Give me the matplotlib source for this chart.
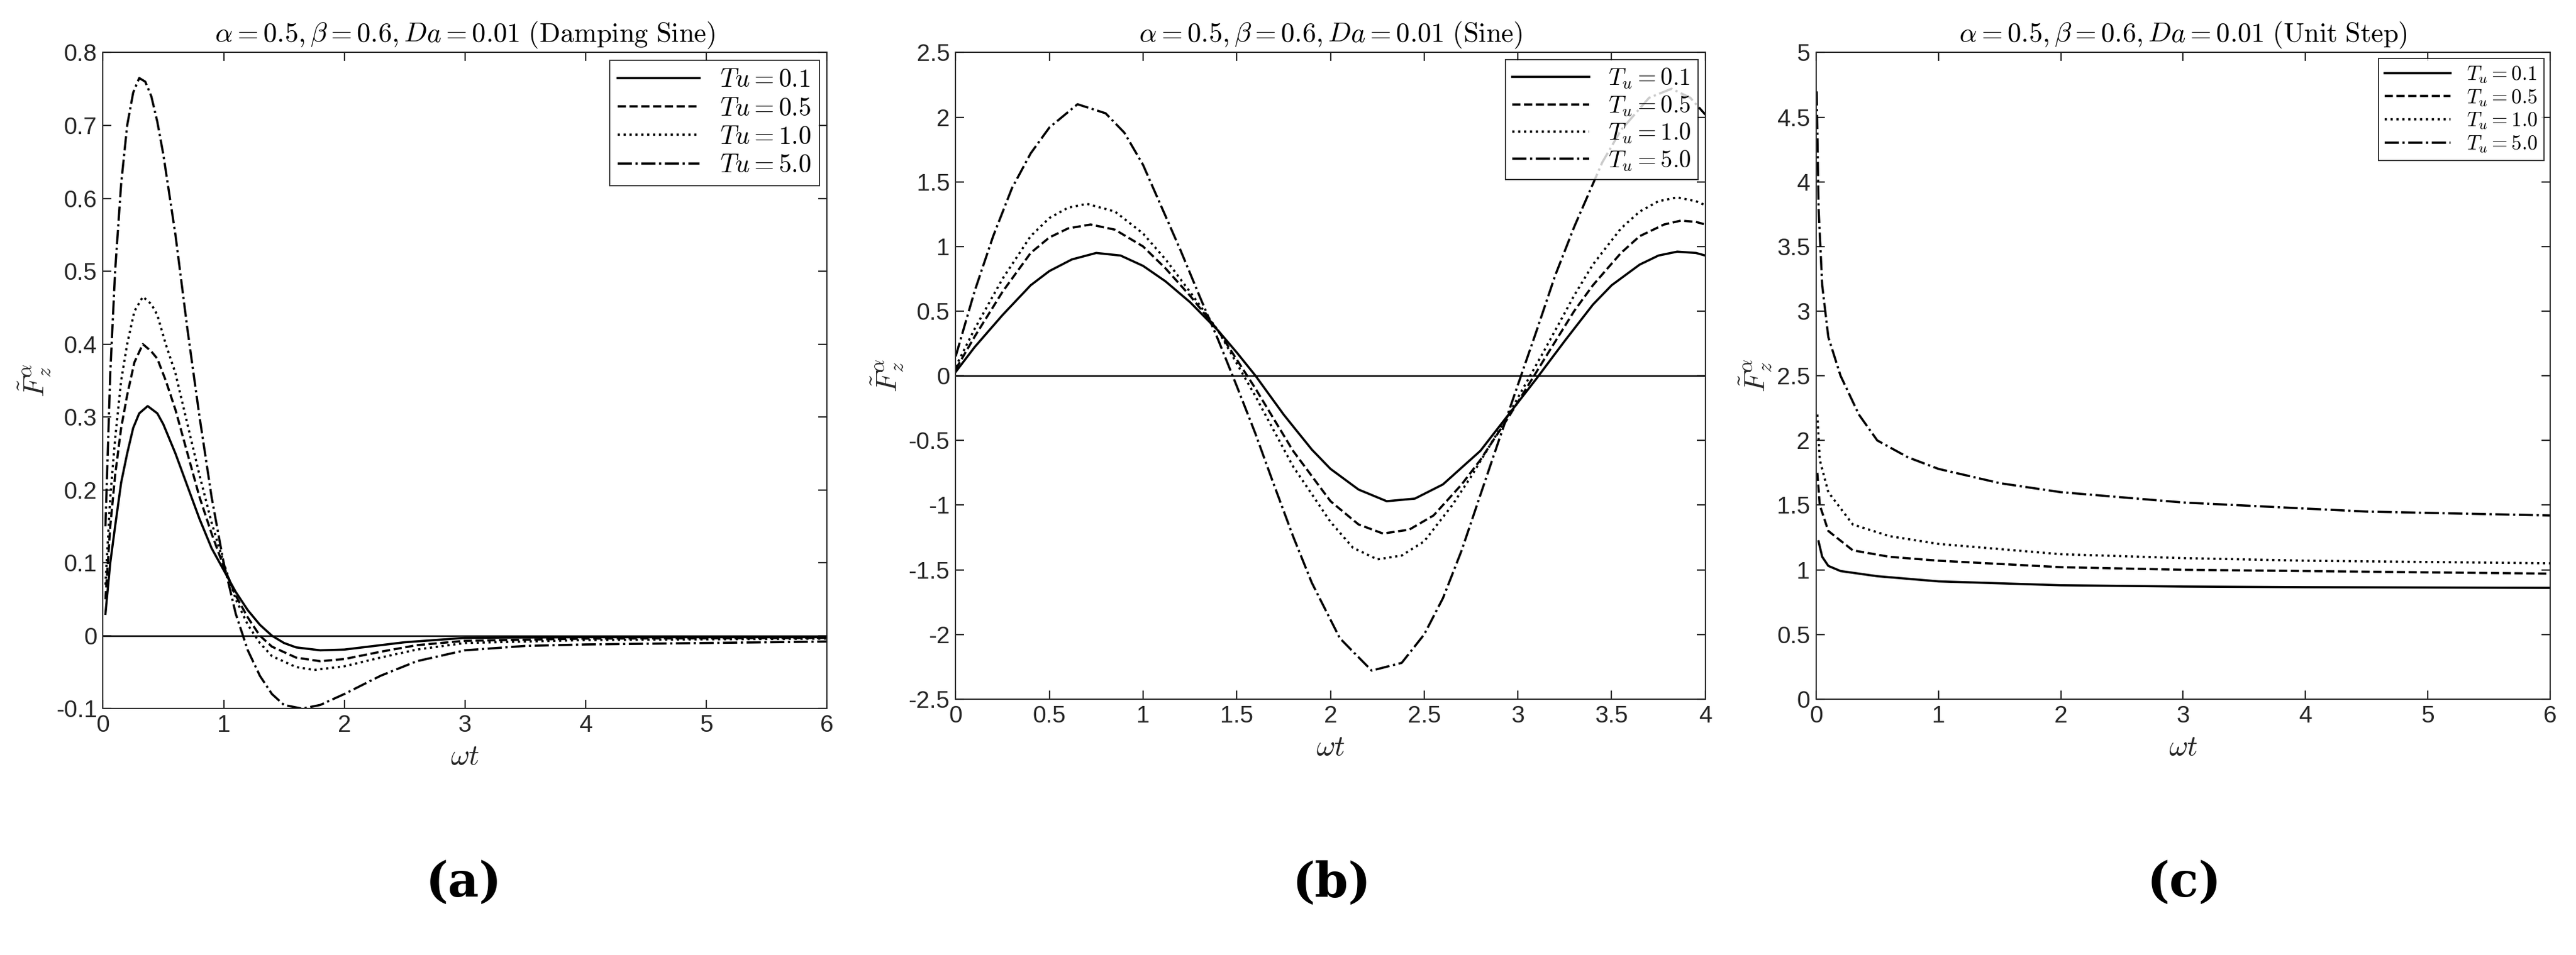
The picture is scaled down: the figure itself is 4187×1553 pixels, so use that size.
import matplotlib
matplotlib.use("Agg")
import matplotlib.pyplot as plt
import numpy as np

plt.rcParams['mathtext.fontset'] = 'cm'
plt.rcParams['font.family'] = ['Liberation Sans', 'DejaVu Sans']

# Panel (a) Damping Sine
a_x1 = [0.02,0.06,0.1,0.15,0.2,0.25,0.3,0.37,0.45,0.5,0.6,0.7,0.8,0.9,1.0,1.1,1.2,1.3,1.4,1.5,1.6,1.8,2.0,2.2,2.5,3.0,4.0,6.0]
a_y1 = [0.03,0.10,0.15,0.21,0.25,0.285,0.305,0.315,0.305,0.29,0.25,0.205,0.16,0.12,0.09,0.06,0.035,0.015,0.0,-0.01,-0.016,-0.02,-0.019,-0.015,-0.009,-0.003,-0.002,-0.002]
a_x2 = [0.02,0.06,0.1,0.15,0.2,0.26,0.33,0.4,0.45,0.52,0.6,0.7,0.8,0.9,1.0,1.1,1.2,1.3,1.4,1.6,1.8,2.0,2.3,2.6,3.0,4.0,6.0]
a_y2 = [0.05,0.15,0.22,0.285,0.33,0.375,0.40,0.39,0.38,0.35,0.31,0.25,0.19,0.14,0.095,0.055,0.025,0.0,-0.015,-0.03,-0.035,-0.032,-0.022,-0.013,-0.007,-0.004,-0.003]
a_x3 = [0.02,0.06,0.1,0.15,0.2,0.26,0.33,0.4,0.45,0.52,0.6,0.7,0.8,0.9,1.0,1.1,1.2,1.3,1.4,1.6,1.75,2.0,2.3,2.6,3.0,4.0,6.0]
a_y3 = [0.07,0.19,0.27,0.35,0.40,0.445,0.465,0.455,0.44,0.40,0.36,0.29,0.22,0.155,0.10,0.05,0.015,-0.01,-0.028,-0.043,-0.047,-0.042,-0.03,-0.019,-0.01,-0.006,-0.004]
a_x4 = [0.02,0.06,0.1,0.15,0.2,0.25,0.3,0.35,0.4,0.45,0.5,0.6,0.7,0.8,0.9,1.0,1.1,1.2,1.3,1.4,1.5,1.65,1.8,2.0,2.3,2.6,3.0,3.5,4.0,5.0,6.0]
a_y4 = [0.15,0.36,0.5,0.62,0.7,0.745,0.765,0.76,0.74,0.705,0.66,0.55,0.42,0.3,0.19,0.10,0.03,-0.02,-0.055,-0.08,-0.095,-0.1,-0.095,-0.08,-0.055,-0.035,-0.02,-0.014,-0.012,-0.01,-0.008]

# Panel (b) Sine
b_x1 = [0,0.1,0.25,0.4,0.5,0.62,0.75,0.88,1.0,1.12,1.25,1.4,1.5,1.6,1.75,1.9,2.0,2.15,2.3,2.45,2.6,2.8,2.95,3.1,3.25,3.4,3.5,3.65,3.75,3.85,3.95,4.0]
b_y1 = [0.03,0.22,0.47,0.7,0.81,0.9,0.95,0.93,0.85,0.73,0.57,0.35,0.18,0.0,-0.3,-0.57,-0.72,-0.88,-0.97,-0.95,-0.84,-0.58,-0.3,-0.02,0.27,0.55,0.7,0.86,0.93,0.96,0.95,0.93]
b_x2 = [0,0.1,0.25,0.4,0.5,0.6,0.72,0.85,1.0,1.12,1.25,1.4,1.6,1.8,2.0,2.15,2.28,2.42,2.55,2.7,2.8,2.95,3.15,3.3,3.4,3.55,3.65,3.78,3.87,3.95,4.0]
b_y2 = [0.05,0.3,0.65,0.95,1.07,1.14,1.17,1.13,1.0,0.83,0.62,0.35,-0.1,-0.58,-0.97,-1.15,-1.22,-1.19,-1.08,-0.84,-0.65,-0.32,0.15,0.5,0.7,0.95,1.08,1.17,1.2,1.19,1.17]
b_x3 = [0,0.1,0.25,0.4,0.5,0.6,0.7,0.85,1.0,1.12,1.25,1.4,1.6,1.8,2.0,2.12,2.25,2.38,2.5,2.65,2.75,2.95,3.15,3.3,3.4,3.55,3.65,3.75,3.85,3.95,4.0]
b_y3 = [0.07,0.36,0.75,1.08,1.22,1.3,1.33,1.27,1.1,0.9,0.65,0.35,-0.16,-0.7,-1.13,-1.33,-1.42,-1.39,-1.28,-1.0,-0.78,-0.3,0.22,0.62,0.86,1.14,1.27,1.35,1.38,1.35,1.32]
b_x4 = [0,0.1,0.2,0.3,0.4,0.5,0.65,0.8,0.9,1.0,1.1,1.2,1.3,1.4,1.5,1.6,1.7,1.8,1.9,2.05,2.22,2.38,2.5,2.6,2.7,2.8,2.95,3.1,3.2,3.3,3.45,3.55,3.7,3.82,3.92,4.0]
b_y4 = [0.15,0.65,1.08,1.45,1.72,1.92,2.1,2.03,1.88,1.63,1.3,0.97,0.62,0.28,-0.08,-0.45,-0.85,-1.24,-1.6,-2.03,-2.28,-2.22,-2.0,-1.72,-1.35,-0.92,-0.28,0.35,0.78,1.15,1.65,1.9,2.15,2.22,2.15,2.02]

# Panel (c) Unit Step
c_x1 = [0.02,0.05,0.1,0.2,0.5,1.0,2.0,3.0,4.0,6.0]
c_y1 = [1.22,1.1,1.03,0.99,0.95,0.91,0.88,0.87,0.865,0.86]
c_x2 = [0.01,0.03,0.1,0.3,0.6,1.0,2.0,3.0,4.0,6.0]
c_y2 = [1.75,1.5,1.3,1.15,1.1,1.07,1.02,1.0,0.99,0.97]
c_x3 = [0.01,0.03,0.1,0.3,0.6,1.0,2.0,3.0,4.0,6.0]
c_y3 = [2.2,1.85,1.6,1.35,1.26,1.2,1.12,1.09,1.07,1.05]
c_x4 = [0.005,0.02,0.05,0.1,0.2,0.35,0.5,0.75,1.0,1.5,2.0,3.0,4.5,6.0]
c_y4 = [4.7,3.8,3.2,2.8,2.5,2.2,2.0,1.87,1.78,1.67,1.6,1.52,1.45,1.42]

labels_a = [r'$Tu=0.1$', r'$Tu=0.5$', r'$Tu=1.0$', r'$Tu=5.0$']
labels_bc = [r'$T_u=0.1$', r'$T_u=0.5$', r'$T_u=1.0$', r'$T_u=5.0$']
styles = ['-', '--', ':', '-.']

fig = plt.figure(figsize=(20.935, 7.765), dpi=200)
rects = [[0.040, 0.258, 0.281, 0.687], [0.371, 0.268, 0.291, 0.677], [0.705, 0.268, 0.285, 0.677]]
axs = [fig.add_axes(r) for r in rects]

data = [
    ([(a_x1,a_y1),(a_x2,a_y2),(a_x3,a_y3),(a_x4,a_y4)], labels_a, (0,6), (-0.1,0.8), np.arange(-0.1,0.81,0.1), np.arange(0,7,1), 'Damping Sine', True, 15),
    ([(b_x1,b_y1),(b_x2,b_y2),(b_x3,b_y3),(b_x4,b_y4)], labels_bc, (0,4), (-2.5,2.5), np.arange(-2.5,2.51,0.5), np.arange(0,4.01,0.5), 'Sine', True, 14),
    ([(c_x1,c_y1),(c_x2,c_y2),(c_x3,c_y3),(c_x4,c_y4)], labels_bc, (0,6), (0,5), np.arange(0,5.01,0.5), np.arange(0,7,1), 'Unit Step', False, 12),
]
for ax, (ser, labs, xl, yl, yt, xt, name, zero, lfs) in zip(axs, data):
    for (x, y), ls, lab in zip(ser, styles, labs):
        ax.plot(x, y, ls, color='black', lw=1.3, label=lab)
    if zero:
        ax.axhline(0, color='black', lw=0.9)
    ax.set_xlim(*xl); ax.set_ylim(*yl)
    ax.set_yticks(yt); ax.set_xticks(xt)
    ax.set_yticklabels([('%g' % round(v, 2)) for v in yt])
    ax.set_xticklabels([('%g' % round(v, 2)) for v in xt])
    ax.tick_params(direction='in', top=True, right=True, labelsize=14, colors='#262626', length=5)
    for s in ax.spines.values():
        s.set_color('#262626'); s.set_linewidth(0.7)
    ax.set_xlabel(r'$\omega t$', fontsize=17, color='#262626')
    ax.set_ylabel(r'$\tilde{F}_z^{\alpha}$', fontsize=17, color='#262626', labelpad=2)
    ax.set_title(r'$\alpha=0.5,\beta=0.6,Da=0.01\ \mathrm{(%s)}$' % name.replace(' ', r'\ '), fontsize=16)
    leg = ax.legend(loc='upper right', fancybox=False, edgecolor='black', fontsize=lfs,
                    handlelength=3.2, borderaxespad=0.3, labelspacing=0.15, borderpad=0.3)
    leg.get_frame().set_linewidth(0.7)

for xc, t in zip([0.18, 0.517, 0.848], ['(a)', '(b)', '(c)']):
    fig.text(xc, 0.075, t, ha='center', va='center', fontsize=28, family='DejaVu Serif', weight='bold')

fig.savefig('out.png', dpi=200)
